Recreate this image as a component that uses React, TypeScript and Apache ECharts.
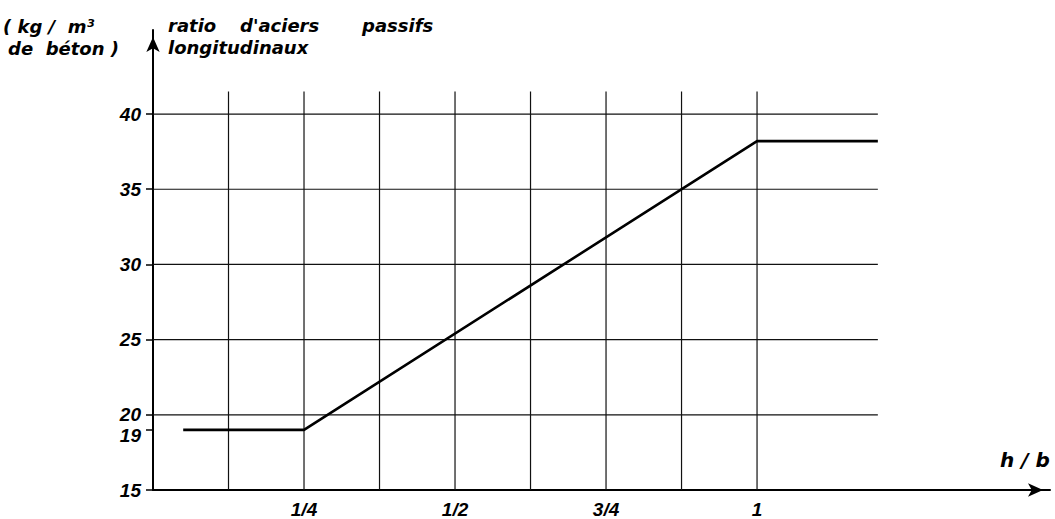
import React, { useEffect, useRef } from "react";
import * as echarts from "echarts";

// Data line: ratio of longitudinal passive steel vs h/b
const ratioX = [0.05, 0.25, 1, 1.2];
const ratioY = [19, 19, 38.2, 38.2];

// Axis ticks / labels
const yTickValues = [15, 19, 20, 25, 30, 35, 40];
const xTickValues = [0.25, 0.5, 0.75, 1];
const xTickLabels = ["1/4", "1/2", "3/4", "1"];

// Grid lines (data space)
const yGridValues = [20, 25, 30, 35, 40];
const xGridValues = [0.125, 0.25, 0.375, 0.5, 0.625, 0.75, 0.875, 1];
const gridXEnd = 1.2;
const gridYEnd = 41.5;

const X_MIN = 0;
const X_MAX = 1.485;
const Y_MIN = 15;
const Y_MAX = 45.59;

const LABEL_FONT = "'Liberation Sans', Arial, sans-serif";
const TITLE_FONT = "'DejaVu Sans', sans-serif";

export default function App() {
  const ref = useRef<HTMLDivElement>(null);

  useEffect(() => {
    if (!ref.current) return;
    const chart = echarts.init(ref.current, undefined, { renderer: "svg" });

    const gridSeries: any[] = [];
    yGridValues.forEach((y) => {
      gridSeries.push({
        type: "line",
        silent: true,
        symbol: "none",
        lineStyle: { color: "#111", width: 1.2 },
        data: [
          [X_MIN, y],
          [gridXEnd, y],
        ],
      });
    });
    xGridValues.forEach((x) => {
      gridSeries.push({
        type: "line",
        silent: true,
        symbol: "none",
        lineStyle: { color: "#111", width: 1.2 },
        data: [
          [x, Y_MIN],
          [x, gridYEnd],
        ],
      });
    });

    const titleStyle = {
      fontFamily: TITLE_FONT,
      fontSize: 18,
      fontWeight: "bold",
      fontStyle: "italic",
      fill: "#000",
      verticalAlign: "middle",
    };

    const option: any = {
      animation: false,
      backgroundColor: "#fff",
      grid: { left: 153, right: 5, top: 30, bottom: 29 },
      xAxis: {
        type: "value",
        min: X_MIN,
        max: X_MAX,
        splitLine: { show: false },
        axisLine: {
          show: true,
          symbol: ["none", "arrow"],
          symbolSize: [10, 15],
          symbolOffset: [0, -7],
          lineStyle: { color: "#000", width: 2 },
        },
        axisTick: { show: false },
        axisLabel: {
          customValues: xTickValues,
          formatter: (v: number) => {
            const i = xTickValues.indexOf(v);
            return i >= 0 ? xTickLabels[i] : "";
          },
          fontFamily: LABEL_FONT,
          fontSize: 19,
          fontStyle: "italic",
          fontWeight: "bold",
          color: "#000",
          margin: 10,
        },
      },
      yAxis: {
        type: "value",
        min: Y_MIN,
        max: Y_MAX,
        splitLine: { show: false },
        axisLine: {
          show: true,
          symbol: ["none", "arrow"],
          symbolSize: [10, 15],
          symbolOffset: [0, -7],
          lineStyle: { color: "#000", width: 2 },
        },
        axisTick: {
          show: true,
          customValues: yTickValues,
          length: 7,
          lineStyle: { color: "#000", width: 1.5 },
        },
        axisLabel: {
          customValues: yTickValues,
          formatter: (v: number) => (v === 19 ? "{low|19}" : String(v)),
          fontFamily: LABEL_FONT,
          fontSize: 19,
          fontStyle: "italic",
          fontWeight: "bold",
          color: "#000",
          margin: 12,
          rich: {
            low: {
              fontFamily: LABEL_FONT,
              fontSize: 19,
              fontStyle: "italic",
              fontWeight: "bold",
              color: "#000",
              padding: [12, 0, 0, 0],
            },
          },
        },
      },
      series: [
        ...gridSeries,
        {
          type: "line",
          silent: true,
          symbol: "none",
          lineStyle: { color: "#000", width: 2.6 },
          data: ratioX.map((x, i) => [x, ratioY[i]]),
        },
      ],
      graphic: [
        { type: "text", x: 3, y: 26, style: { ...titleStyle, text: "( kg /  m³" } },
        { type: "text", x: 8, y: 48, style: { ...titleStyle, text: "de  béton )" } },
        { type: "text", x: 168, y: 25, style: { ...titleStyle, text: "ratio" } },
        { type: "text", x: 240, y: 25, style: { ...titleStyle, text: "d'aciers" } },
        { type: "text", x: 362, y: 25, style: { ...titleStyle, text: "passifs" } },
        { type: "text", x: 168, y: 47, style: { ...titleStyle, text: "longitudinaux" } },
        {
          type: "text",
          x: 1000,
          y: 460,
          style: { ...titleStyle, fontSize: 20, text: "h / b" },
        },
      ],
    };

    chart.setOption(option);
    return () => chart.dispose();
  }, []);

  return (
    <div
      ref={ref}
      style={{ position: "fixed", left: 0, top: 0, width: 1055, height: 519, background: "#fff" }}
    />
  );
}
